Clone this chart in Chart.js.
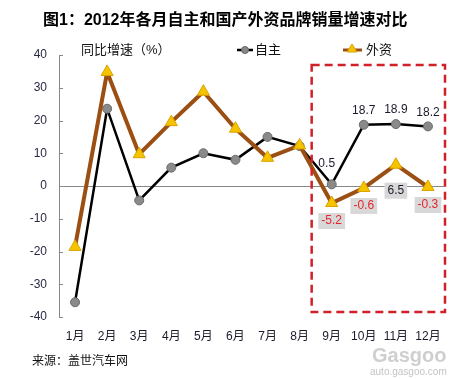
<!DOCTYPE html>
<html><head><meta charset="utf-8">
<script src="https://cdn.jsdelivr.net/npm/chart.js@4"></script>
<style>html,body{margin:0;padding:0;background:#fff;}#wrap{position:relative;width:459px;height:379px;}</style>
</head><body><div id="wrap"><canvas id="c" width="459" height="379"></canvas></div>
<script>
const months = ['1月','2月','3月','4月','5月','6月','7月','8月','9月','10月','11月','12月'];
const ziZhu = [-35.5, 23.6, -4.4, 5.6, 10.0, 8.0, 15.0, 12.2, 0.5, 18.7, 18.9, 18.2];
const waiZi = [-18.6, 34.8, 9.7, 19.5, 28.8, 17.5, 8.6, 12.4, -5.2, -0.6, 6.5, -0.3];
const yMin = -40, yMax = 40, yStep = 10;
const labelStart = 8;
const titleText = '图1：2012年各月自主和国产外资品牌销量增速对比';
const yTitle = '同比增速（%）';
const sourceText = '来源：盖世汽车网';

const FONT = '"Liberation Sans", "Noto Sans CJK SC", sans-serif';

const decor = {
  id: 'decor',
  afterDraw(chart) {
    const ctx = chart.ctx;
    const ca = chart.chartArea;
    const ys = chart.scales.y, xs = chart.scales.x;
    ctx.save();
    // inside ticks
    ctx.strokeStyle = '#888'; ctx.lineWidth = 1;
    for (let v = yMin; v <= yMax; v += yStep) {
      const y = Math.round(ys.getPixelForValue(v)) + 0.5;
      ctx.beginPath(); ctx.moveTo(ca.left, y); ctx.lineTo(ca.left + 4, y); ctx.stroke();
    }
    // title
    ctx.fillStyle = '#000';
    ctx.font = 'bold 16px ' + FONT;
    ctx.textBaseline = 'middle'; ctx.textAlign = 'left';
    ctx.fillText(titleText, 43, 21);
    // y title
    ctx.font = '13px ' + FONT; ctx.fillStyle = '#111';
    ctx.fillText(yTitle, 81, 50);
    // legend 自主
    ctx.strokeStyle = '#000'; ctx.lineWidth = 2.5;
    ctx.beginPath(); ctx.moveTo(237, 50); ctx.lineTo(253, 50); ctx.stroke();
    ctx.fillStyle = '#888'; ctx.strokeStyle = '#666'; ctx.lineWidth = 1;
    ctx.beginPath(); ctx.arc(245, 50, 3.5, 0, Math.PI * 2); ctx.fill(); ctx.stroke();
    ctx.fillStyle = '#111'; ctx.fillText('自主', 255, 50);
    // legend 外资
    ctx.strokeStyle = '#9C4F12'; ctx.lineWidth = 3;
    ctx.beginPath(); ctx.moveTo(343, 50); ctx.lineTo(362, 50); ctx.stroke();
    ctx.fillStyle = '#F5C400'; ctx.strokeStyle = '#D9A000'; ctx.lineWidth = 1;
    ctx.beginPath(); ctx.moveTo(352, 44); ctx.lineTo(357, 52); ctx.lineTo(347, 52); ctx.closePath(); ctx.fill(); ctx.stroke();
    ctx.fillStyle = '#111'; ctx.fillText('外资', 366, 50);
    // data labels
    ctx.font = '12px ' + FONT; ctx.textAlign = 'center';
    for (let i = labelStart; i < months.length; i++) {
      const x = xs.getPixelForValue(i);
      const yz = ys.getPixelForValue(ziZhu[i]);
      const txt = ziZhu[i].toFixed(1);
      ctx.fillStyle = '#1a1a2a';
      if (ziZhu[i] < 5) ctx.fillText(txt, x - 5, yz - 21);
      else ctx.fillText(txt, x, yz - 14);
      const yw = ys.getPixelForValue(waiZi[i]);
      const t2 = waiZi[i].toFixed(1);
      const w = ctx.measureText(t2).width + 6;
      const cy = waiZi[i] > 3 ? yw + 26 : yw + 18;
      ctx.fillStyle = '#D8D8D8';
      ctx.fillRect(x - w / 2, cy - 8, w, 16);
      ctx.fillStyle = waiZi[i] < 0 ? '#E5252F' : '#1a1a2a';
      ctx.fillText(t2, x, cy);
    }
    // dashed red box
    ctx.strokeStyle = '#D0202A'; ctx.lineWidth = 2.5; ctx.setLineDash([8, 5]);
    const bx1 = (xs.getPixelForValue(7) + xs.getPixelForValue(8)) / 2 - 4;
    ctx.strokeRect(bx1, 65, 445 - bx1, 247);
    ctx.setLineDash([]);
    // source
    ctx.textAlign = 'left'; ctx.fillStyle = '#111'; ctx.font = '12px ' + FONT;
    ctx.fillText(sourceText, 32, 362);
    // watermark
    ctx.fillStyle = '#CFCFCF'; ctx.font = 'bold 20px ' + FONT;
    ctx.fillText('Gasgoo', 372, 356);
    ctx.font = '10px ' + FONT; ctx.fillStyle = '#C4C4C4';
    ctx.fillText('auto.gasgoo.com', 370, 372);
    ctx.restore();
  }
};

new Chart(document.getElementById('c'), {
  type: 'line',
  data: {
    labels: months,
    datasets: [
      { label: '自主', data: ziZhu, borderColor: '#000', borderWidth: 2.5,
        pointStyle: 'circle', pointRadius: 4.5, pointBackgroundColor: '#8a8a8a',
        pointBorderColor: '#6a6a6a', pointBorderWidth: 1, tension: 0, order: 2 },
      { label: '外资', data: waiZi, borderColor: '#9C4F12', borderWidth: 4,
        pointStyle: 'triangle', pointRadius: 7, pointBackgroundColor: '#F5C400',
        pointBorderColor: '#DDA200', pointBorderWidth: 1, tension: 0, order: 1 }
    ]
  },
  options: {
    responsive: false, animation: false, devicePixelRatio: 1,
    layout: { padding: { top: 55, left: 0, right: 15, bottom: 30 } },
    plugins: { legend: { display: false }, tooltip: { enabled: false }, title: { display: false } },
    scales: {
      x: {
        offset: true,
        grid: { display: false, drawTicks: false, offset: true }, border: { display: false },
        ticks: { color: '#1a1a2a', font: { size: 12, family: FONT }, padding: 12, maxRotation: 0, autoSkip: false },
        afterFit(s) { s.height = 32; }
      },
      y: {
        min: yMin, max: yMax,
        ticks: { stepSize: yStep, color: '#2a2a44', font: { size: 12, family: FONT }, padding: 12 },
        grid: { drawTicks: false, color: c => (c.tick && c.tick.value === 0) ? '#888' : 'rgba(0,0,0,0)', lineWidth: 1 },
        border: { display: true, color: '#888', width: 1 },
        afterFit(s) { s.width = 59; }
      }
    }
  },
  plugins: [decor]
});
</script></body></html>
